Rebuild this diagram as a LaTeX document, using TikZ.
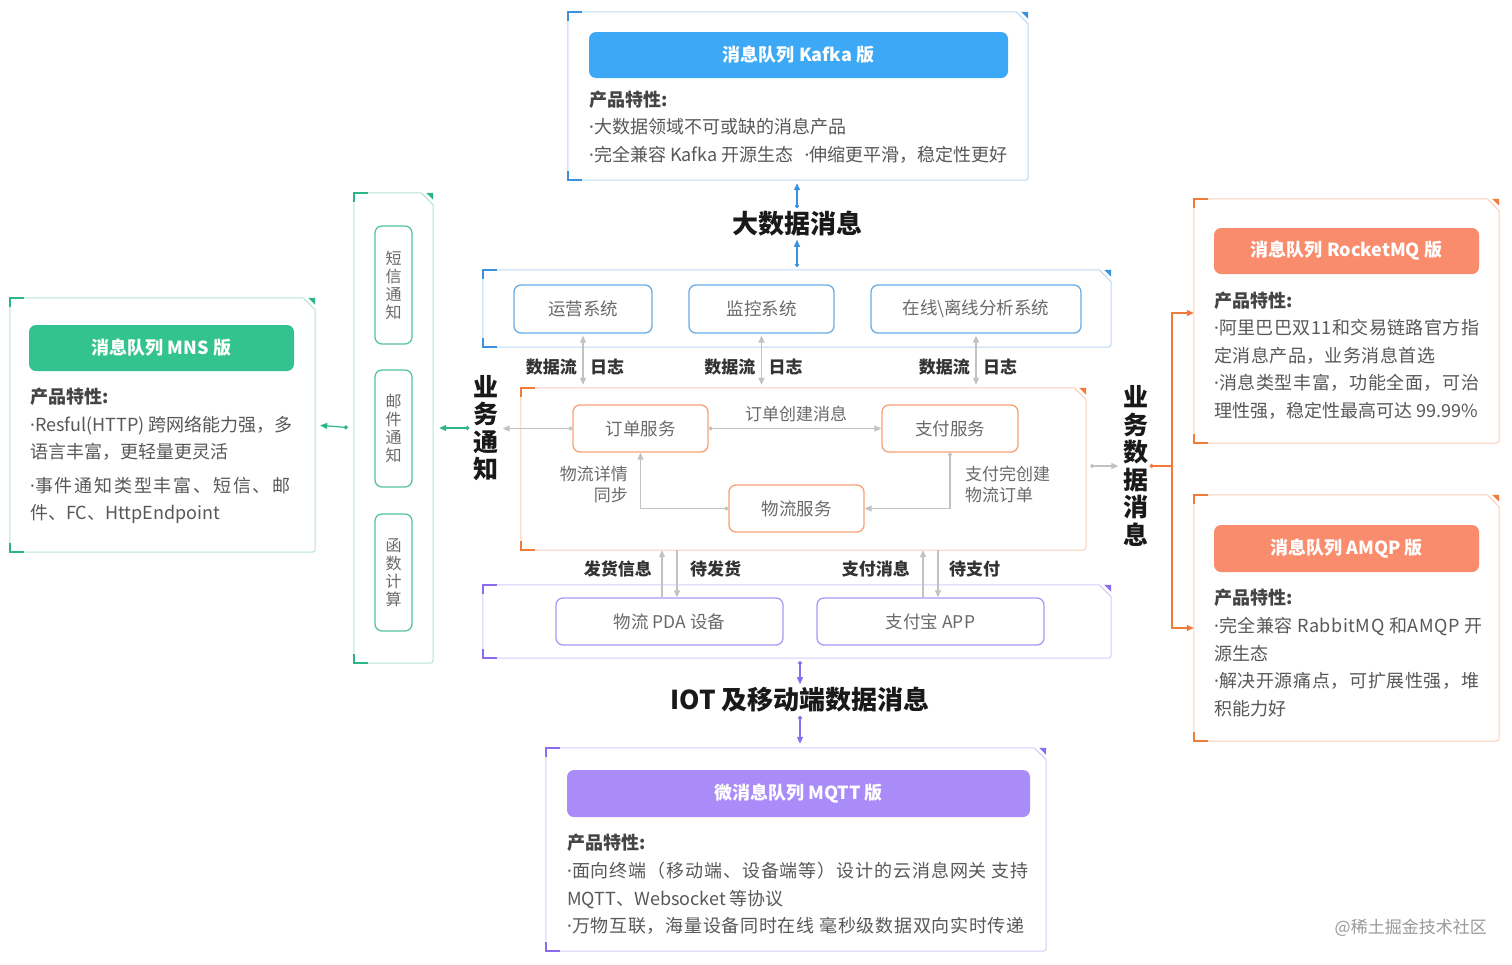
\documentclass[tikz,border=0pt]{standalone}
\usepackage{fontspec}
\setmainfont{Noto Sans CJK SC}
\newfontfamily\latinf{Noto Sans}
\newcommand\bdot{{\latinf ·}}
\newcommand\lsp[2]{{\addfontfeature{LetterSpace=#1}#2}}
\usetikzlibrary{arrows.meta,calc}
\definecolor{blueH}{HTML}{3DA8F5}
\definecolor{blueD}{HTML}{3A92DE}
\definecolor{greenH}{HTML}{33C38F}
\definecolor{greenD}{HTML}{2BB683}
\definecolor{orangeH}{HTML}{F98C6D}
\definecolor{orangeD}{HTML}{F27A3A}
\definecolor{purpleH}{HTML}{A98CF7}
\definecolor{purpleD}{HTML}{8A6CEE}
\definecolor{txtgray}{HTML}{585858}
\definecolor{txtdark}{HTML}{444444}
\definecolor{boxtxt}{HTML}{6A6A6A}
\definecolor{lbltxt}{HTML}{333333}
\definecolor{arrgray}{HTML}{C2C2C2}
\newcommand\panelfx[2]{%
 \draw[#2!35, line width=1pt] (#1.north west) -- ($(#1.north east)+(-12,0)$) -- ($(#1.north east)+(0,12)$) -- ($(#1.south east)+(0,-7)$) .. controls (#1.south east) .. ($(#1.south east)+(-7,0)$) -- (#1.south west) -- cycle;
 \draw[#2, line width=1.8pt] ($(#1.north west)+(0,9)$) -- (#1.north west) -- ($(#1.north west)+(14,0)$);
 \draw[#2, line width=1.8pt] ($(#1.south west)+(0,-9)$) -- (#1.south west) -- ($(#1.south west)+(14,0)$);
 \fill[#2] ($(#1.north east)+(-7,0)$) -- (#1.north east) -- ($(#1.north east)+(0,7)$) -- cycle;
}
\tikzset{
 panel/.style={rectangle, draw=none, inner sep=0pt},
 hdr/.style={rectangle, rounded corners=7pt, text=white, font=\fontsize{18}{20}\selectfont\bfseries, inner sep=0pt},
 feat/.style={align=left, anchor=west, inner sep=0pt, text=txtgray, font=\fontsize{18}{27.5}\selectfont},
 feath/.style={anchor=west, inner sep=0pt, text=txtdark, font=\fontsize{18}{20}\selectfont\bfseries},
 ibox/.style={rectangle, rounded corners=7pt, line width=1.3pt, fill=white, text=boxtxt, font=\fontsize{17.5}{20}\selectfont, inner sep=0pt},
 vbox/.style={rectangle, rounded corners=7pt, line width=1.3pt, draw=greenD!80, text=boxtxt, align=center, font=\fontsize{16}{18}\selectfont, inner sep=0pt, minimum width=37pt},
 big/.style={font=\fontsize{26}{28}\selectfont\bfseries, text=black!90, inner sep=1pt},
 vbig/.style={font=\fontsize{25}{27.5}\selectfont\bfseries, text=black!90, inner sep=1pt, align=center},
 lbl/.style={font=\fontsize{17}{20}\selectfont\bfseries, text=lbltxt, inner sep=0pt},
 glbl/.style={font=\fontsize{17}{21}\selectfont, text=boxtxt, inner sep=0pt},
 garr/.style={draw=arrgray, line width=1.2pt},
 dotarr/.style={{Circle[length=4pt]}-{Triangle[length=7pt,width=6pt]}},
 dblarr/.style={{Triangle[length=7pt,width=6pt]}-{Triangle[length=7pt,width=6pt]}},
 onearr/.style={-{Triangle[length=7pt,width=6pt]}},
}
\begin{document}
\begin{tikzpicture}[x=1pt,y=-1pt]
\useasboundingbox[fill=white] (0,0) rectangle (1512,964);

% ---------- Kafka ----------
\node[panel, minimum width=460pt, minimum height=168pt] (kafka) at (798,96) {};
\panelfx{kafka}{blueD}
\node[hdr, fill=blueH, minimum width=419pt, minimum height=46pt] (kafkah) at (798.5,55) {消息队列 Kafka 版};
\node[feath] (kafkat) at (589,100) {产品特性:};
\node[feat] (kafkaf) at (589,141) {\bdot 大数据领域不可或缺的消息产品\\\bdot 完全兼容 Kafka 开源生态\hspace{11pt}\bdot 伸缩更平滑，稳定性更好};

\node[big] (bigdata) at (797,224) {大数据消息};

% ---------- systems ----------
\node[panel, minimum width=628pt, minimum height=77pt] (sys) at (797,308.5) {};
\panelfx{sys}{blueD}
\node[ibox, draw=blueD!75, minimum width=138pt, minimum height=48pt] (s1) at (583,309) {运营系统};
\node[ibox, draw=blueD!75, minimum width=145pt, minimum height=48pt] (s2) at (761.5,309) {监控系统};
\node[ibox, draw=blueD!75, minimum width=210pt, minimum height=48pt] (s3) at (976,309) {在线\textbackslash 离线分析系统};

% ---------- center ----------
\node[panel, minimum width=565pt, minimum height=162pt] (center) at (803.5,469) {};
\panelfx{center}{orangeD}
\node[ibox, draw=orangeD!70, minimum width=135pt, minimum height=47pt] (order) at (640.5,428.5) {订单服务};
\node[ibox, draw=orangeD!70, minimum width=136pt, minimum height=47pt] (pay) at (950,428.5) {支付服务};
\node[ibox, draw=orangeD!70, minimum width=135pt, minimum height=47pt] (logi) at (796.5,508.5) {物流服务};
\node[glbl] (lorder) at (796,414) {订单创建消息};
\node[glbl, align=right, anchor=east] (llog) at (628,485) {物流详情\\同步};
\node[glbl, align=left, anchor=west] (lpay) at (965,484) {支付完创建\\物流订单};

% ---------- devices ----------
\node[panel, minimum width=628pt, minimum height=73pt] (dev) at (797,621.5) {};
\panelfx{dev}{purpleD}
\node[ibox, draw=purpleD!70, minimum width=227pt, minimum height=47pt] (pda) at (669.5,621.5) {物流 PDA 设备};
\node[ibox, draw=purpleD!70, minimum width=227pt, minimum height=47pt] (alipay) at (930.5,621.5) {支付宝 APP};

\node[big] (iot) at (800,700) {IOT 及移动端数据消息};

% ---------- MQTT ----------
\node[panel, minimum width=500pt, minimum height=203pt] (mqtt) at (796,849.5) {};
\panelfx{mqtt}{purpleD}
\node[hdr, fill=purpleH, minimum width=463pt, minimum height=47pt] (mqtth) at (798.5,793.5) {微消息队列 MQTT 版};
\node[feath] (mqttt) at (567,843) {产品特性:};
\node[feat] (mqttf) at (567,898.5) {\lsp{5}{\bdot 面向终端（移动端、设备端等）设计的云消息网关 支持}\\MQTT、Websocket 等协议\\\lsp{4}{\bdot 万物互联，海量设备同时在线 毫秒级数据双向实时传递}};

% ---------- notification ----------
\node[vbig] (notice) at (486,428) {业\\务\\通\\知};
\node[panel, minimum width=79pt, minimum height=470pt] (col) at (393.5,428) {};
\panelfx{col}{greenD}
\node[vbox, minimum height=118pt] (n1) at (393.5,285) {短\\信\\通\\知};
\node[vbox, minimum height=117pt] (n2) at (393.5,428.5) {邮\\件\\通\\知};
\node[vbox, minimum height=117pt] (n3) at (393.5,572.5) {函\\数\\计\\算};

% ---------- MNS ----------
\node[panel, minimum width=305pt, minimum height=254pt] (mns) at (162.5,425) {};
\panelfx{mns}{greenD}
\node[hdr, fill=greenH, minimum width=265pt, minimum height=46pt] (mnsh) at (161.5,348) {消息队列 MNS 版};
\node[feath] (mnst) at (30,397) {产品特性:};
\node[feat] (mnsf1) at (30,438.5) {\bdot Resful(HTTP) 跨网络能力强，多\\语言丰富，更轻量更灵活};
\node[feat] (mnsf2) at (30,500.5) {\lsp{10}{\bdot 事件通知类型丰富、短信、邮}\\件、FC、HttpEndpoint};

% ---------- business data ----------
\node[vbig] (biz) at (1136,466) {业\\务\\数\\据\\消\\息};
\node[panel, minimum width=305pt, minimum height=244pt] (rocket) at (1346.5,321) {};
\panelfx{rocket}{orangeD}
\node[hdr, fill=orangeH, minimum width=265pt, minimum height=46pt] (rocketh) at (1346.5,251) {消息队列 RocketMQ 版};
\node[feath] (rockett) at (1214,301) {产品特性:};
\node[feat] (rocketf) at (1214,369.5) {\lsp{2.5}{\bdot 阿里巴巴双11和交易链路官方指}\\\lsp{2.5}{定消息产品，业务消息首选}\\\lsp{3.5}{\bdot 消息类型丰富，功能全面，可治}\\理性强，稳定性最高可达 99.99\%};

\node[panel, minimum width=305pt, minimum height=246pt] (amqp) at (1346.5,618) {};
\panelfx{amqp}{orangeD}
\node[hdr, fill=orangeH, minimum width=265pt, minimum height=47pt] (amqph) at (1346.5,548.5) {消息队列 AMQP 版};
\node[feath] (amqpt) at (1214,598) {产品特性:};
\node[feat] (amqpf) at (1214,667) {\lsp{3}{\bdot 完全兼容 RabbitMQ 和AMQP 开}\\源生态\\\lsp{3.5}{\bdot 解决开源痛点，可扩展性强，堆}\\积能力好};

\node[anchor=east, inner sep=0pt, text=black!40, font=\fontsize{17}{20}\selectfont] (wm) at (1487,928) {@稀土掘金技术社区};

% ---------- connectors ----------
% big data
\draw[blueD, line width=1.2pt, dotarr, shorten <=2pt, shorten >=3pt] (bigdata.north) -- (bigdata.north |- kafka.south);
\draw[blueD, line width=1.2pt, dotarr, shorten <=3pt, shorten >=2pt] (bigdata.south |- sys.north) -- (bigdata.south);
% systems to center
\foreach \s in {s1,s2,s3}{
  \draw[garr, dblarr, shorten <=2pt, shorten >=3pt] (\s.south) -- (\s.south |- center.north);
}
\node[lbl, anchor=east] (d1) at ($(s1.south)+(-6,33)$) {数据流};
\node[lbl, anchor=west] (r1) at ($(s1.south)+(7,33)$) {日志};
\node[lbl, anchor=east] (d2) at ($(s2.south)+(-6,33)$) {数据流};
\node[lbl, anchor=west] (r2) at ($(s2.south)+(7,33)$) {日志};
\node[lbl, anchor=east] (d3) at ($(s3.south)+(-6,33)$) {数据流};
\node[lbl, anchor=west] (r3) at ($(s3.south)+(7,33)$) {日志};
% inside center
\draw[garr, dotarr] (order.east) -- (pay.west);
\draw[garr, dotarr] (pay.south) |- (logi.east);
\draw[garr, dotarr] (logi.west) -| (order.south);
\draw[garr, dotarr, shorten >=3pt] (order.west) -- (order.west -| notice.east);
% notification
\draw[greenD, line width=1.2pt, dotarr, shorten <=3pt, shorten >=6pt] (notice.west) -- (col.east);
\draw[greenD, line width=1.2pt, dotarr, shorten <=6pt, shorten >=5pt] (col.west) -- (mns.east);
% center to devices
\coordinate (pa) at ($(pda.north)+(-7.5,0)$);
\coordinate (pb) at ($(pda.north)+(7.5,0)$);
\coordinate (qa) at ($(alipay.north)+(-7.5,0)$);
\coordinate (qb) at ($(alipay.north)+(7.5,0)$);
\draw[garr, onearr] (pa) -- (pa |- center.south);
\draw[garr, onearr] (pb |- center.south) -- (pb);
\draw[garr, onearr] (qa) -- (qa |- center.south);
\draw[garr, onearr] (qb |- center.south) -- (qb);
\node[lbl, anchor=east] (l1) at (652,569) {发货信息};
\node[lbl, anchor=west] (l2) at (690,569) {待发货};
\node[lbl, anchor=east] (l3) at (910,569) {支付消息};
\node[lbl, anchor=west] (l4) at (949,569) {待支付};
% iot
\draw[purpleD, line width=1.2pt, dotarr, shorten <=3pt, shorten >=2pt] (iot.north |- dev.south) -- (iot.north);
\draw[purpleD, line width=1.2pt, dotarr, shorten <=2pt, shorten >=4pt] (iot.south) -- (iot.south |- mqtt.north);
% business data
\draw[garr, dotarr, shorten <=4pt, shorten >=4pt] (biz.west -| center.east) -- (biz.west);
\coordinate (bj) at (1172,466);
\draw[orangeD, line width=1.3pt, {Circle[length=4pt]}-] (biz.east) -- (bj);
\draw[orangeD, line width=1.3pt, onearr] (bj) |- ([yshift=8pt]rocket.west);
\draw[orangeD, line width=1.3pt, onearr] (bj) |- ([yshift=-10pt]amqp.west);
\end{tikzpicture}
\end{document}
